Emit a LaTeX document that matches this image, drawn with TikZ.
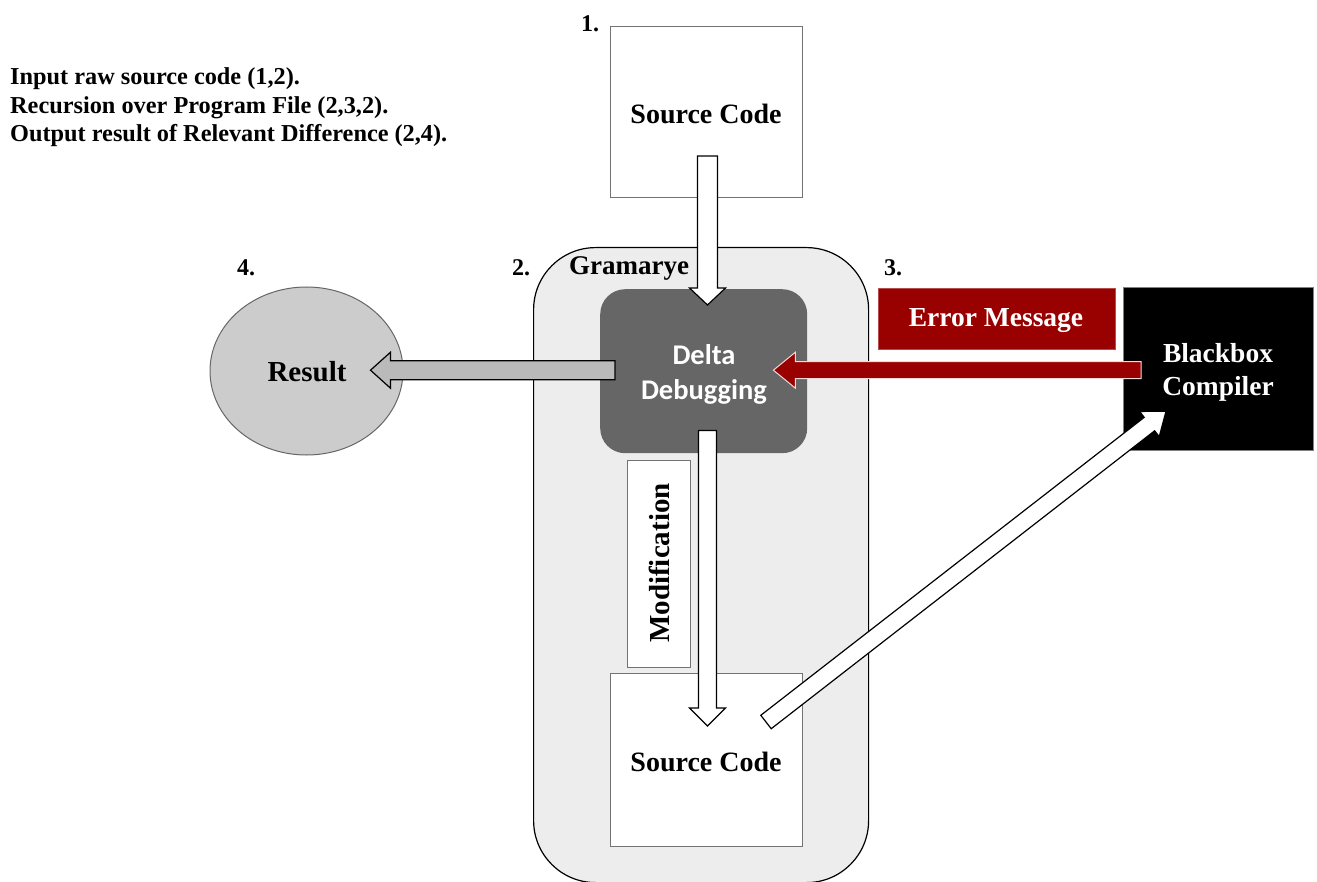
\documentclass[tikz,border=0pt]{standalone}
\usepackage{fontspec}
\setmainfont{Liberation Serif}
\newfontfamily\calfont{Carlito}
\usetikzlibrary{calc,shapes.geometric}
\newcommand\blockarr[6]{%
  \coordinate (ba-c) at ($(#3)!#6!(#2)$);
  \path[#1] ($(#2)!#4!90:(#3)$) -- ($(ba-c)!#4!-90:(#2)$) -- ($(ba-c)!#5!-90:(#2)$)
    -- (#3) -- ($(ba-c)!#5!90:(#2)$) -- ($(ba-c)!#4!90:(#2)$) -- ($(#2)!#4!-90:(#3)$) -- cycle;}
\definecolor{dred}{HTML}{990000}
\tikzset{
  txt/.style={font=\bfseries\fontsize{28}{33}\selectfont, inner sep=0pt},
  side/.style={font=\bfseries\fontsize{24.3}{28.5}\selectfont, inner sep=0pt},
  num/.style={font=\bfseries\fontsize{24}{28}\selectfont, inner sep=0pt},
  boxw/.style={draw=gray!90!black, fill=white, line width=1pt},
  warr/.style={draw=black, fill=white, line width=1.2pt, line join=miter},
}
\begin{document}
\begin{tikzpicture}[x=1pt,y=-1pt]
\useasboundingbox (0,0) rectangle (1317,882);
% container
\node[draw=black, fill=black!7, line width=1.2pt, rounded corners=62pt, minimum width=335pt, minimum height=635pt, anchor=north west, inner sep=0pt] (gram) at (533,247) {};
\node[txt, font=\bfseries\fontsize{27}{32}\selectfont, anchor=base west] (gramt) at (569,275) {Gramarye};
% numbers
\node[num] (n1) at (590,24) {1.};
\node[num] (n2) at (521,268) {2.};
\node[num] (n3) at (893,268) {3.};
\node[num] (n4) at (246,268) {4.};
% left text
\node[side, anchor=base west] (t1) at (10,85) {Input raw source code (1,2).};
\node[side, anchor=base west] (t2) at (10,113.5) {Recursion over Program File (2,3,2).};
\node[side, anchor=base west] (t3) at (10,142) {Output result of Relevant Difference (2,4).};
% top source code
\node[boxw, minimum width=192pt, minimum height=171pt, anchor=north west] (src1) at (610,26) {};
\node[txt] (src1t) at (706,114) {Source Code};
% delta debugging
\node[fill=black!60, rounded corners=25pt, minimum width=207pt, minimum height=164pt, anchor=north west, inner sep=0pt] (dd) at (600,289) {};
\node[font=\calfont\bfseries\fontsize{28.5}{35}\selectfont, text=white, align=center, inner sep=0pt] (ddt) at (704,374) {Delta\\Debugging};
% error message
\node[fill=dred, draw=dred!70!white, minimum width=237pt, minimum height=61pt, anchor=north west, inner sep=0pt] (err) at (878,288) {};
\node[txt, text=white, font=\bfseries\fontsize{27.5}{32}\selectfont] (errt) at (996,321) {Error Message};
% blackbox
\node[fill=black, draw=gray, line width=1.2pt, minimum width=190pt, minimum height=163pt, anchor=north west, inner sep=0pt] (bb) at (1123,287) {};
\node[txt, text=white, align=center, font=\bfseries\fontsize{27.5}{33}\selectfont] (bbt) at (1218,372) {Blackbox\\Compiler};
% result
\node[ellipse, fill=black!20, draw=gray!80!black, line width=1pt, minimum width=193pt, minimum height=168pt, inner sep=0pt] (res) at (306.5,371) {};
\node[txt, font=\bfseries\fontsize{29}{34}\selectfont] (rest) at (307,372) {Result};
% modification
\node[boxw, minimum width=63pt, minimum height=207pt, anchor=north west, inner sep=0pt] (mod) at (627,460) {};
\node[txt, rotate=90, font=\bfseries\fontsize{29}{34}\selectfont] (modt) at (659,563) {Modification};
% bottom source code
\node[boxw, minimum width=192pt, minimum height=173pt, anchor=north west] (src2) at (610,673) {};
\node[txt] (src2t) at (706,762) {Source Code};
% connectors
\coordinate (a1s) at ($(src1.north)+(1,130)$);
\coordinate (a1e) at ($(a1s |- dd.north)+(0,16)$);
\blockarr{warr}{a1s}{a1e}{10pt}{18pt}{17pt}
\coordinate (a2s) at ($(a1s |- dd.south)+(0,-23)$);
\coordinate (a2e) at ($(a1s |- src2.north)+(0,53)$);
\blockarr{warr}{a2s}{a2e}{9pt}{18pt}{18pt}
\coordinate (a3s) at ($(dd.west)+(15,-1)$);
\coordinate (a3e) at ($(a3s -| res.east)+(-33,0)$);
\blockarr{draw=black, fill=black!27, line width=1.2pt}{a3s}{a3e}{9.5pt}{18pt}{20pt}
\coordinate (a4e) at ($(dd.east)+(-34,-1)$);
\coordinate (a4s) at ($(a4e -| bb.west)+(18,0)$);
\blockarr{draw=white!85!dred, fill=dred, line width=1pt}{a4s}{a4e}{8.5pt}{18pt}{22pt}
\coordinate (a5s) at ($(src2.north east)+(-37,49)$);
\coordinate (a5e) at ($(bb.south west)+(43,-40)$);
\blockarr{warr}{a5s}{a5e}{8.5pt}{16pt}{21pt}
\end{tikzpicture}
\end{document}
